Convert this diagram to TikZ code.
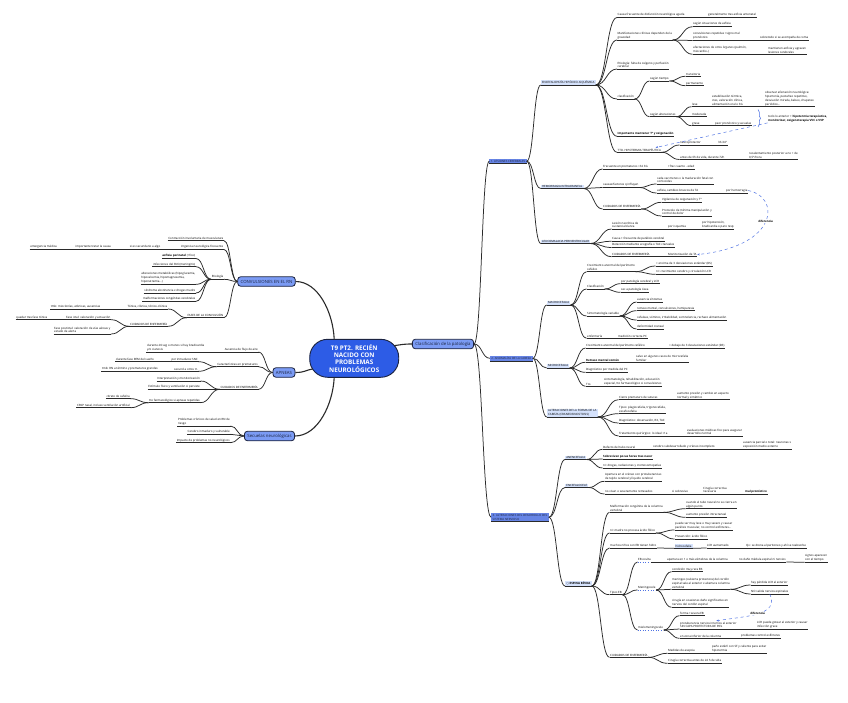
\documentclass[tikz,border=0pt]{standalone}
\usepackage{fontspec}
\setmainfont{Open Sans}
\newfontfamily\symbfont{DejaVu Sans}
\usetikzlibrary{calc,arrows.meta,decorations.pathreplacing}

\definecolor{mapblue}{HTML}{2D5CE6}
\definecolor{boxblue}{HTML}{7B9BF4}
\definecolor{secblue}{HTML}{6785E6}
\definecolor{lightblue}{HTML}{D5E2FC}
\definecolor{edgegray}{HTML}{2A2A2A}
\definecolor{navy}{HTML}{1B2340}
\definecolor{relblue}{HTML}{4F72E3}

\tikzset{
  ul/.style={draw=edgegray, line width=0.75pt},
  leafbase/.style={font=\fontsize{2.9}{3.9}\selectfont, inner xsep=0.5pt, inner ysep=0.8pt,
    anchor=south west, align=left},
  lf/.style={leafbase,
    append after command={(\tikzlastnode.south west) edge[ul] (\tikzlastnode.south east)}},
  lk/.style={leafbase,
    append after command={(\tikzlastnode.south west) edge[draw=relblue, dotted, line width=0.6pt] (\tikzlastnode.south east)}},
  lfl/.style={lf, anchor=south east},
  sub/.style={lf, fill=lightblue, inner xsep=1.2pt},
  sec/.style={lf, anchor=center, fill=secblue, text=navy, inner xsep=1.3pt, inner ysep=1.3pt},
  topic/.style={font=\fontsize{4.3}{5}\selectfont, fill=boxblue, draw=navy, text=navy, line width=0.8pt,
    rounded corners=3pt, inner xsep=3pt, inner ysep=0pt, minimum height=9.5pt},
  link/.style={draw=edgegray, line width=0.75pt},
  trunk/.style={draw=edgegray, line width=1.1pt},
  rel/.style={draw=relblue, dashed, line width=0.5pt, -{Stealth[length=2.5pt,width=2pt]}},
  rellab/.style={font=\bfseries\fontsize{2.9}{3.5}\selectfont, fill=white, inner sep=0.5pt},
}

\newcommand*{\Branch}[1]{% #1 = list of from/to anchors
  \foreach \pa/\ch in {#1} {
    \coordinate (m) at ($(\pa)!.5!(\ch)$);
    \draw[link] (\pa) .. controls (m |- \pa) and (m |- \ch) .. (\ch);
  }%
}
\newcommand*{\Links}[1]{% #1 = list of parent/child, right side
  \foreach \pa/\ch in {#1} {
    \coordinate (m) at ($(\pa.south east)!.5!(\ch.south west)$);
    \draw[link] (\pa.south east) .. controls (m |- \pa.south east) and (m |- \ch.south west) .. (\ch.south west);
  }%
}
\newcommand*{\LinksL}[1]{% #1 = list of parent/child, left side
  \foreach \pa/\ch in {#1} {
    \coordinate (m) at ($(\pa.south west)!.5!(\ch.south east)$);
    \draw[link] (\pa.south west) .. controls (m |- \pa.south west) and (m |- \ch.south east) .. (\ch.south east);
  }%
}

\begin{document}
\begin{tikzpicture}[x=1pt,y=-1pt]
  \fill[white] (0,0) rectangle (848,703);
  \useasboundingbox (0,0) rectangle (848,703);

  % centro y ramas principales
  \node[font=\bfseries\fontsize{6.3}{7.4}\selectfont, text=white, fill=mapblue, draw=navy,
    line width=0.9pt, rounded corners=18pt, minimum width=89pt, minimum height=38pt, align=center]
    (root) at (354.2,358.3) {T9 PT2. RECIÉN\\NACIDO CON\\PROBLEMAS\\NEUROLÓGICOS};
  \node[topic] (conv) at (266.5,281.5) {CONVULSIONES EN EL RN};
  \node[topic] (apn) at (284,372.5) {APNEAS};
  \node[topic] (secu) at (269.5,436) {Secuelas neurológicas};
  \node[topic] (clas) at (443,344) {Clasificación de la patología};

  \draw[trunk] (conv.east) .. controls (318,281.5) and (333,312) .. ($(root.center)+(-20,-19)$);
  \draw[trunk] (secu.east) .. controls (318,436) and (333,404) .. ($(root.center)+(-20,19)$);
  \draw[trunk] (apn.east) .. controls (305,372.5) and (306,370) .. ($(root.center)+(-41.7,10.7)$);
  \draw[trunk] ($(root.center)+(40,-12.6)$) .. controls (402,344.5) and (404,344) .. (clas.west);

  \node[sec] (L1) at (508,161.2) {1. LESIONES CEREBRALES};
  \node[sec] (L2) at (511.3,358.3) {2. ANOMALÍAS DE LA CABEZA};
  \node[sec] (L3) at (520,517.3) {3. ALTERACIONES DEL DESARROLLO DEL\\SISTEMA NERVIOSO};

  % 1. lesiones cerebrales
  \node[sub] (enc) at (540.7,85) {ENCEFALOPATÍA HIPÓXICO-ISQUÉMICA};
  \node[lf] (causa) at (617,17.5) {Causa frecuente de disfunción neurológica aguda};
  \node[lf] (gen) at (707.5,17.5) {generalmente tras asfixia antenatal};
  \node[lf] (manif) at (617,40) {Manifestaciones clínicas dependen de la\\gravedad};
  \node[lf] (sit) at (692.5,26.7) {según situaciones de asfixia};
  \node[lf] (convr) at (692.5,40.5) {convulsiones repetidas =signo mal\\pronóstico};
  \node[lf] (sob) at (759.5,40.5) {sobretodo si se acompaña de coma};
  \node[lf] (afec) at (692.5,54.3) {afectaciones de otros órganos (pulmón,\\miocardio..)};
  \node[lf] (mant) at (767.5,54.3) {mantienen asfixia y agravan\\lesiones cerebrales};
  \node[lf] (etio) at (617,69) {Etiología: falta de oxígeno y perfusión\\cerebral};
  \node[lf] (clsf) at (617,99) {clasificación};
  \node[lf] (tiem) at (649.5,81) {según tiempo};
  \node[lf] (trans) at (685.5,76.3) {transitoria};
  \node[lf] (perm) at (685.5,85.7) {permanente};
  \node[lf] (salt) at (649.5,116.7) {según alteraciones};
  \node[lf] (leve) at (691.5,106.7) {leve};
  \node[lf] (estab) at (711.5,106.7) {estabilización térmica,\\ctes, valoración clínica,\\alimentación oral o SG};
  \node[lf] (obs) at (764.5,106.7) {observar afectación neurológica:\\hipertonía, pestañeo repetitivo,\\desviación mirada, babeo, chupeteo\\periódico...};
  \node[lf] (mod) at (691.5,116.7) {moderada};
  \node[lf] (grav) at (691.5,125.7) {grave};
  \node[lf] (peor) at (714.5,125.7) {peor pronóstico y secuelas};
  \node[lf] (imp) at (617,136.3) {\textbf{Importante mantener Tª y oxigenación}};
  \node[lf] (tto) at (617,152.3) {TTO. HIPOTERMIA TERAPÉUTICA};
  \node[lf] (neuro) at (679.5,145) {neuroprotector};
  \node[lf] (t33) at (717.5,145) {33-34º};
  \node[lf] (antes) at (679.5,159.5) {antes de 6h de vida, durante 72h};
  \node[lf] (recal) at (748.5,159.5) {recalentamiento posterior a no + de\\0,5º/hora};
  \node[leafbase, anchor=west] (sum) at (767.5,118.5)
    {todo lo anterior + \textbf{hipotermia terapéutica,}\\\textbf{monitorizar, oxigenoterapia VVC o VVP}};
  \draw[relblue, line width=0.5pt, decorate, decoration={brace, amplitude=2.5pt}] (758,109.5) -- (758,127);

  \node[sub] (hem) at (540.7,188.5) {HEMORRAGIA INTRACRANEAL};
  \node[lf] (frec) at (602.5,169) {Frecuente en prematuros <32 SG};
  \node[lf] (frec2) at (667.5,169) {+frec cuanto - edad};
  \node[lf] (caus) at (602.5,187.5) {causas/factores q influyen};
  \node[lf] (cada) at (656.5,184) {cada vez menos x la maduración fetal con\\corticoides};
  \node[lf] (asf) at (656.5,193) {asfixia, cambios bruscos de TA};
  \node[lf] (porh) at (725.5,193) {por hemorragia};
  \node[lf] (cuid1) at (602.5,209) {CUIDADOS DE ENFERMERÍA};
  \node[lf] (vig) at (661.5,202.3) {Vigilancia de oxigenación y Tª};
  \node[lf] (prot) at (661.5,216) {Protocolo de mínima manipulación y\\control de dolor};

  \node[sub] (leu) at (540.7,243.5) {LEUCOMALACIA PERIVENTRICULAR};
  \node[lf] (les) at (611.5,229) {Lesión necrótica de\\sustancia blanca};
  \node[lf] (isq) at (667.5,229) {por isquemia};
  \node[lf] (hipo) at (701.5,229) {por hipotensión,\\bradicardia o paro resp};
  \node[lf] (causa2) at (611.5,241.3) {Causa + frecuente de parálisis cerebral};
  \node[lf] (det) at (611.5,247.5) {Detección mediante ecografía o TAC craneales};
  \node[lf] (cuid2) at (611.5,256.7) {CUIDADOS DE ENFERMERÍA};
  \node[lf] (mon) at (667.5,256.7) {Monitorización de TA};

  % 2. anomalias de la cabeza
  \node[sub] (mac) at (546.7,305) {MACROCEFALIA};
  \node[lf] (crec1) at (586.5,271.7) {Crecimiento anormal del perímetro\\cefálico};
  \node[lf] (enc3) at (655.5,266) {> encima de 3 desviaciones estándar (DS)};
  \node[lf] (circ) at (655.5,274.3) {r/c crecimiento cerebro y circulación LCR};
  \node[lf] (clas2) at (586.5,289) {Clasificación};
  \node[lf] (pat) at (620.5,283.7) {por patología cerebral y LCR};
  \node[lf] (osea) at (620.5,292.3) {sec a patología ósea};
  \node[lf] (sint) at (586.5,316) {Sintomatología variable};
  \node[lf] (aus) at (636.5,302) {ausencia síntomas};
  \node[lf] (ret) at (636.5,310.7) {retraso mental, convulsiones, hemiparesia};
  \node[lf] (cef) at (636.5,320) {cefaleas, vómitos, irritabilidad, somnolencia, rechazo alimentación};
  \node[lf] (def) at (636.5,329) {deformidad craneal};
  \node[lf] (enf) at (586.5,338.3) {enfermería};
  \node[lf] (med) at (617.5,338.3) {medición correcta PC};

  \node[sub] (mic) at (546.7,368) {MICROCEFALIA};
  \node[lf] (crec2) at (585.5,348) {Crecimiento anormal del perímetro cefálico};
  \node[lf] (deb) at (668.5,348) {< debajo de 3 desviaciones estándar (DS)};
  \node[lf] (retc) at (585.5,362.3) {\textbf{Retraso mental común}};
  \node[lf] (salvo) at (635.5,362.3) {salvo en algunos casos de microcefalia\\familiar};
  \node[lf] (diag) at (585.5,372.3) {Diagnóstico por medida del PC};
  \node[lf] (tto2) at (585.5,386.3) {Tto};
  \node[lf] (sin) at (603.5,386.3) {sintomatología, rehabilitación, educación\\especial, tto farmacológico si convulsiones};

  \node[sub] (alt) at (546.7,417) {ALTERACIONES DE LA FORMA DE LA\\CABEZA (CRANEOSINOSTOSIS)};
  \node[lf] (cier) at (618.5,399.7) {Cierre prematuro de suturas};
  \node[lf] (aum) at (676.5,399.7) {aumento presión y cambio en aspecto\\normal y simétrico};
  \node[lf] (tipos) at (618.5,413.7) {Tipos: plagiocefalia, trigonocefalia,\\escafocefalia};
  \node[lf] (diag2) at (618.5,423) {Diagnóstico: observación, RX, TAC};
  \node[lf] (trat) at (618.5,436) {Tratamiento quirúrgico: lo ideal <1a};
  \node[lf] (eval) at (686.5,436) {evaluaciones médicas frec para asegurar\\desarrollo normal};

  % 3. alteraciones del desarrollo
  \node[sub] (ane) at (565,459.5) {ANENCEFALIA};
  \node[lf] (dtn) at (602.5,449.3) {Defecto del tubo neural};
  \node[lf] (cer) at (652.5,449.3) {cerebro subdesarrollado y cráneo incompleto};
  \node[lf] (ausp) at (742.5,449.3) {ausencia parcial o total: neuronas x\\exposición medio externo};
  \node[lf] (sobre) at (602.5,459) {\textbf{Sobreviven pocas horas tras nacer}};
  \node[lf] (drog) at (602.5,468) {r/c drogas, radiaciones y cromosomopatías};

  \node[sub] (ence) at (565,487.5) {ENCEFALOCELE};
  \node[lf] (aper) at (604.5,481.3) {Apertura en el cráneo con protuberancias\\de tejido cerebral y líquido cerebral};
  \node[lf] (nviv) at (604.5,494) {no vivan o severamente retrasados};
  \node[lf] (sisob) at (671.5,494) {si sobrevive};
  \node[lf] (ciru) at (702.5,494) {Cirugía correctiva\\necesaria};
  \node[lf] (malp) at (744.5,494) {\textbf{mal pronóstico}};

  \node[sub] (esp) at (565,586) {{\symbfont ○} \textbf{ESPINA BÍFIDA}};
  \node[lf] (malf) at (609.5,512.3) {Malformación congénita de la columna\\vertebral};
  \node[lf] (cuando) at (685.5,508.7) {cuando el tubo neural no se cierra en\\algún punto};
  \node[lf] (aumpr) at (685.5,517.3) {aumento presión intracraneal};
  \node[lf] (madre) at (609.5,533) {r/c madre no procesa ácido fólico};
  \node[lf] (puede) at (674.5,530) {puede ser muy leve o muy severo y causar\\parálisis muscular, no control esfínteres...};
  \node[lf] (prev) at (674.5,539) {Prevención: ácido fólico};
  \node[lf] (muchos) at (609.5,548) {muchos niños con EB tienen hidro};
  \node[sub] (hidro) at (674.3,548.3) {hidrocefalia};
  \node[lf] (lcra) at (706.5,548) {LCR aumentado};
  \node[lf] (qx) at (745.5,548) {Qx: se drena al peritoneo y ahí se reabsorbe};
  \node[lf] (tipeb) at (609.5,594.7) {Tipos EB};
  \node[lk] (eboc) at (637.5,562) {EB oculta};
  \node[lf] (aper2) at (666.5,562) {apertura en 1 o más vértebras de la columna};
  \node[lf] (nodano) at (738.5,562) {no daño médula espinal ni nervios};
  \node[lf] (signos) at (804.5,562.3) {signos aparecen\\con el tiempo};
  \node[lk] (mening) at (637.5,590) {Meningocele};
  \node[lf] (cond) at (671.5,571.7) {condición muy rara EB};
  \node[lf] (men) at (671.5,589.3) {meninges (cubierta protectora) del cordón\\espinal sale al exterior x abertura columna\\vertebral};
  \node[lf] (hay) at (750.5,585) {hay pérdida LCR al exterior};
  \node[lf] (nosal) at (750.5,594) {NO salida nervios espinales};
  \node[lf] (cirug) at (671.5,607.3) {cirugía en ocasiones daño significativo en\\nervios del cordón espinal};
  \node[lk] (mielo) at (637.5,630) {mielomeningocele};
  \node[lf] (forma) at (679.5,615.7) {forma +severa EB};
  \node[lf] (protu) at (679.5,629) {protuberancia nervios internos al exterior\\SIN CAPA PROTECTORA DE PIEL};
  \node[lf] (lcrg) at (756.5,629) {LCR puede gotear al exterior y causar\\infección grave};
  \node[lf] (zona) at (679.5,638.3) {en zona inferior de la columna};
  \node[lf] (probl) at (740.5,638.3) {problemas control esfínteres};
  \node[lf] (cuid3) at (609.5,657.3) {CUIDADOS DE ENFERMERÍA};
  \node[lf] (asep) at (667.5,653.3) {Medidas de asepsia};
  \node[lf] (pano) at (711.5,653.3) {paño estéril con SF y caliente para evitar\\hipotermia};
  \node[lf] (circ2) at (667.5,663.3) {Cirugía correctiva antes de 24 h de vida};

  % lado izquierdo
  \node[lfl] (contr) at (224,240.7) {Contracción involuntaria de musculatura};
  \node[lfl] (urg) at (224,249.5) {Urgencia neurológica frecuente};
  \node[lfl] (sisec) at (161,249.5) {si es secundario a algo};
  \node[lfl] (imptr) at (111.5,249.5) {importante tratar la causa};
  \node[lfl] (emerg) at (57.5,249.5) {emergencia médica};
  \node[lfl] (etiol) at (224,279.3) {Etiología};
  \node[lfl] (asfp) at (196,258.5) {\textbf{asfixia perinatal} (+frec)};
  \node[lfl] (inf) at (196,266.7) {infecciones del SNC(meningitis)};
  \node[lfl] (alte) at (196,284.3) {alteraciones metabólicas (hipoglucemia,\\hipocalcemia, hipomagnesemia,\\hiponatremia...)};
  \node[lfl] (sind) at (196,293) {síndrome abstinencia x drogas madre};
  \node[lfl] (malfc) at (196,301.3) {malformaciones congénitas cerebrales};
  \node[lfl] (fases) at (224,317.7) {FASES DE LA CONVULSIÓN};
  \node[lfl] (ton) at (168,309) {Tónica, clónica, tónico-clónica};
  \node[lfl] (tmb) at (101,309) {tmb: mioclonías, atónicas, ausencias};
  \node[lfl] (cuidc) at (168,326.3) {CUIDADOS DE ENFERMERÍA};
  \node[lfl] (ictal) at (111,319.7) {Fase ictal: valoración y actuación};
  \node[lfl] (qued) at (48,319.7) {quedar tras fase tónica};
  \node[lfl] (postic) at (111,334) {Fase postictal: valoración de vías aéreas y\\estado de alerta};

  \node[lfl] (ausf) at (258.5,352) {Ausencia de flujo de aire};
  \node[lfl] (dur) at (205,352) {durante 20 seg o menos si hay bradicardia\\y/o cianosis};
  \node[lfl] (carp) at (258.5,366.7) {Características en prematuros};
  \node[lfl] (inm) at (198.5,361.7) {por inmadurez SNC};
  \node[lfl] (rem) at (154.5,361.7) {durante fase REM del sueño};
  \node[lfl] (secu2) at (198.5,371.3) {secund a otros tr.};
  \node[lfl] (tmbrn) at (158.5,371.3) {tmb: RN a término y prematuros grandes};
  \node[lfl] (cuida) at (258.5,389.3) {CUIDADOS DE ENFERMERÍA};
  \node[lfl] (interp) at (200.5,381) {Interpretación y monitorización};
  \node[lfl] (estim) at (200.5,389.3) {Estímulo físico y ventilación si persiste};
  \node[lfl] (ttof) at (200.5,402.7) {tto farmacológico si apneas repetidas};
  \node[lfl] (citr) at (130.5,398.7) {citrato de cafeína};
  \node[lfl] (cpap) at (130.5,407.7) {CPAP nasal, incluso ventilación artificial};

  \node[lfl] (prob) at (230.5,426) {Problemas crónicos de salud en RN de\\riesgo};
  \node[lfl] (cereb) at (230.5,434.3) {Cerebro inmaduro y vulnerable};
  \node[lfl] (impac) at (230.5,442.7) {Impacto de problemas no neurológicos};

  % conectores
  \Branch{clas.east/L1.west, clas.east/L2.west, clas.east/L3.west,
    L1.east/enc.south west, L1.east/hem.south west, L1.east/leu.south west,
    L2.east/mac.south west, L2.east/mic.south west, L2.east/alt.south west,
    L3.east/ane.south west, L3.east/ence.south west, L3.east/esp.south west,
    conv.west/contr.south east, conv.west/urg.south east, conv.west/etiol.south east, conv.west/fases.south east,
    apn.west/ausf.south east, apn.west/carp.south east, apn.west/cuida.south east,
    secu.west/prob.south east, secu.west/cereb.south east, secu.west/impac.south east}

  \Links{enc/causa, causa/gen, enc/manif, manif/sit, manif/convr, convr/sob, manif/afec, afec/mant,
    enc/etio, enc/clsf, clsf/tiem, tiem/trans, tiem/perm, clsf/salt, salt/leve, leve/estab, estab/obs,
    salt/mod, salt/grav, grav/peor, enc/imp, enc/tto, tto/neuro, neuro/t33, tto/antes, antes/recal,
    hem/frec, frec/frec2, hem/caus, caus/cada, caus/asf, asf/porh, hem/cuid1, cuid1/vig, cuid1/prot,
    leu/les, les/isq, isq/hipo, leu/causa2, leu/det, leu/cuid2, cuid2/mon,
    mac/crec1, crec1/enc3, crec1/circ, mac/clas2, clas2/pat, clas2/osea, mac/sint, sint/aus, sint/ret,
    sint/cef, sint/def, mac/enf, enf/med,
    mic/crec2, crec2/deb, mic/retc, retc/salvo, mic/diag, mic/tto2, tto2/sin,
    alt/cier, cier/aum, alt/tipos, alt/diag2, alt/trat, trat/eval,
    ane/dtn, dtn/cer, cer/ausp, ane/sobre, ane/drog,
    ence/aper, ence/nviv, nviv/sisob, sisob/ciru, ciru/malp,
    esp/malf, malf/cuando, malf/aumpr, esp/madre, madre/puede, madre/prev, esp/muchos, muchos/hidro,
    hidro/lcra, lcra/qx, esp/tipeb, tipeb/eboc, eboc/aper2, aper2/nodano, nodano/signos,
    tipeb/mening, mening/cond, mening/men, men/hay, men/nosal, mening/cirug,
    tipeb/mielo, mielo/forma, mielo/protu, protu/lcrg, mielo/zona, zona/probl,
    esp/cuid3, cuid3/asep, asep/pano, cuid3/circ2}

  \LinksL{urg/sisec, sisec/imptr, imptr/emerg, etiol/asfp, etiol/inf, etiol/alte, etiol/sind, etiol/malfc,
    fases/ton, ton/tmb, fases/cuidc, cuidc/ictal, ictal/qued, cuidc/postic,
    ausf/dur, carp/inm, inm/rem, carp/secu2, secu2/tmbrn,
    cuida/interp, cuida/estim, cuida/ttof, ttof/citr, ttof/cpap}

  % relaciones
  \draw[rel] (sum.south west) -- ([xshift=-6pt]tto.north east);
  \draw[rel] (porh.east) .. controls (780,196) and (780,246) .. node[rellab] {diferencia} (mon.east);
  \draw[rel] (nosal.south) .. controls (780,616) and (745,616) .. node[rellab] {diferencia} ([xshift=8pt]protu.north);
\end{tikzpicture}
\end{document}
